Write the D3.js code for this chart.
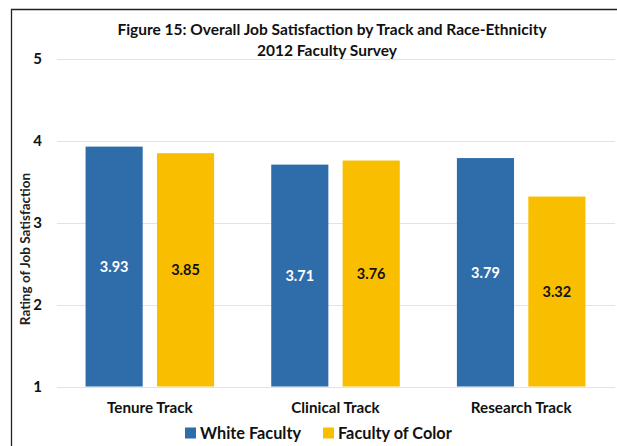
<!DOCTYPE html>
<html>
<head>
<meta charset="utf-8">
<script src="https://cdn.jsdelivr.net/npm/d3@7"></script>
<style>
  html, body { margin: 0; padding: 0; background: #fff; }
  svg { display: block; font-family: Lato, "Open Sans", sans-serif; }
</style>
</head>
<body>
<svg id="chart" width="617" height="446"></svg>
<script>
// Chart data
const tracks = ["Tenure Track", "Clinical Track", "Research Track"];
const groups = ["White Faculty", "Faculty of Color"];
const whiteFaculty = [3.93, 3.71, 3.79];
const facultyOfColor = [3.85, 3.76, 3.32];
const yTicks = [1, 2, 3, 4, 5];
const titleLines = ["Figure 15: Overall Job Satisfaction by Track and Race-Ethnicity", "2012 Faculty Survey"];
const yAxisTitle = "Rating of Job Satisfaction";

const colors = { "White Faculty": "#2E6DAA", "Faculty of Color": "#F9BE00" };
const labelColors = { "White Faculty": "#ffffff", "Faculty of Color": "#111111" };

const rows = tracks.map((t, i) => ({
  track: t,
  values: [
    { group: groups[0], value: whiteFaculty[i] },
    { group: groups[1], value: facultyOfColor[i] }
  ]
}));

const svg = d3.select("#chart");

// Frame lines (left and top)
svg.append("path")
  .attr("d", "M11.5,446 L11.5,9.5 L617,9.5")
  .attr("fill", "none")
  .attr("stroke", "#222")
  .attr("stroke-width", 1.3);

const y = d3.scaleLinear().domain([1, 5]).range([386.5, 59]);
const x0 = d3.scaleBand().domain(tracks).range([57, 614]).paddingInner(0).paddingOuter(0);
const x1 = d3.scaleBand().domain(groups).range([0, x0.bandwidth()]).paddingInner(0.2).paddingOuter(0.4);

// Gridlines
svg.append("g").selectAll("line")
  .data(yTicks)
  .join("line")
  .attr("x1", 57).attr("x2", 615)
  .attr("y1", d => Math.round(y(d)) + 0.5)
  .attr("y2", d => Math.round(y(d)) + 0.5)
  .attr("stroke", "#e3e3e3")
  .attr("stroke-width", 1);

// Y tick labels
svg.append("g").selectAll("text")
  .data(yTicks)
  .join("text")
  .attr("x", 42)
  .attr("y", d => y(d))
  .attr("dy", "0.36em")
  .attr("text-anchor", "end")
  .attr("font-size", 15)
  .attr("font-weight", 700)
  .attr("fill", "#111")
  .text(d => d);

// Y axis title
svg.append("text")
  .attr("transform", "translate(29.5,249) rotate(-90)")
  .attr("text-anchor", "middle")
  .attr("font-size", 13.5)
  .attr("font-weight", 700)
  .attr("fill", "#222")
  .text(yAxisTitle);

// Bars
const gGroups = svg.append("g").selectAll("g")
  .data(rows)
  .join("g")
  .attr("transform", d => `translate(${x0(d.track)},0)`);

gGroups.selectAll("rect")
  .data(d => d.values)
  .join("rect")
  .attr("x", d => x1(d.group))
  .attr("width", x1.bandwidth())
  .attr("y", d => y(d.value))
  .attr("height", d => y(1) - y(d.value))
  .attr("fill", d => colors[d.group]);

// Value labels, centred in each bar
gGroups.selectAll("text.val")
  .data(d => d.values)
  .join("text")
  .attr("class", "val")
  .attr("x", d => x1(d.group) + x1.bandwidth() / 2)
  .attr("y", d => (y(d.value) + y(1)) / 2)
  .attr("dy", "0.36em")
  .attr("text-anchor", "middle")
  .attr("font-size", 14.5)
  .attr("font-weight", 700)
  .attr("fill", d => labelColors[d.group])
  .text(d => d.value.toFixed(2));

// Category labels
svg.append("g").selectAll("text")
  .data(tracks)
  .join("text")
  .attr("x", d => x0(d) + x0.bandwidth() / 2)
  .attr("y", 408)
  .attr("dy", "0.36em")
  .attr("text-anchor", "middle")
  .attr("font-size", 15.2)
  .attr("font-weight", 700)
  .attr("fill", "#111")
  .text(d => d);

// Title
svg.append("g").selectAll("text")
  .data(titleLines)
  .join("text")
  .attr("x", (d, i) => i === 0 ? 332 : 327)
  .attr("y", (d, i) => 35 + i * 21)
  .attr("text-anchor", "middle")
  .attr("font-size", 15.5)
  .attr("font-weight", 700)
  .attr("fill", "#111")
  .text(d => d);

// Legend
const legendItems = [
  { group: groups[0], x: 185 },
  { group: groups[1], x: 323 }
];
const legend = svg.append("g").selectAll("g")
  .data(legendItems)
  .join("g")
  .attr("transform", d => `translate(${d.x},433)`);
legend.append("rect")
  .attr("x", 0).attr("y", -5.5)
  .attr("width", 11).attr("height", 11)
  .attr("fill", d => colors[d.group]);
legend.append("text")
  .attr("x", 15)
  .attr("y", 0)
  .attr("dy", "0.36em")
  .attr("font-size", 16.3)
  .attr("font-weight", 700)
  .attr("fill", "#111")
  .text(d => d.group);
</script>
</body>
</html>
